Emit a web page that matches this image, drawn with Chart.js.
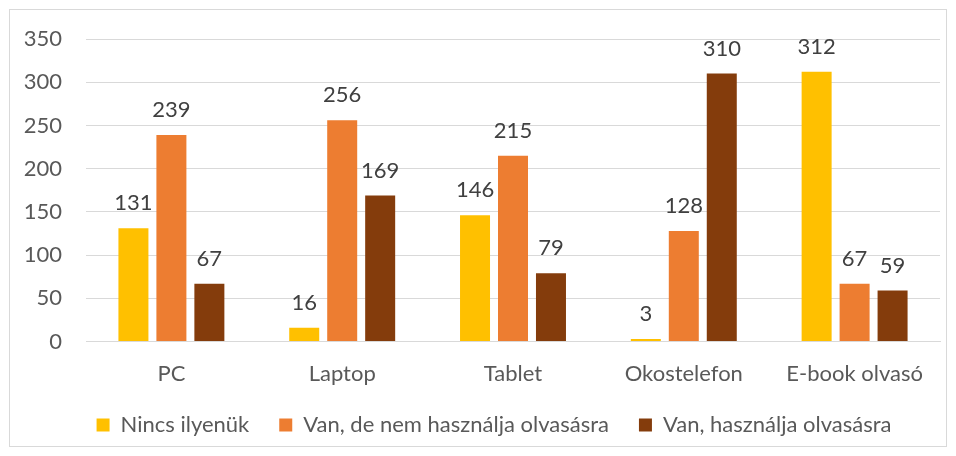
<!DOCTYPE html>
<html>
<head>
<meta charset="utf-8">
<script src="https://cdn.jsdelivr.net/npm/chart.js@4"></script>
<style>
  body { margin: 0; background: #fff; }
  #keret { position: absolute; left: 9px; top: 9px; width: 936px; height: 436px; border: 1px solid #d9d9d9; }
  #doboz { position: absolute; left: 0; top: 0; width: 956px; height: 456px; }
</style>
</head>
<body>
<div id="keret"></div>
<div id="doboz"><canvas id="eszkozChart" width="956" height="456"></canvas></div>
<script>
// Kategóriák és sorozatok
const eszkozok = ["PC", "Laptop", "Tablet", "Okostelefon", "E-book olvasó"];
const nincsIlyenuk = [131, 16, 146, 3, 312];
const vanDeNem = [239, 256, 215, 128, 67];
const vanHasznalja = [67, 169, 79, 310, 59];
const yTicks = [0, 50, 100, 150, 200, 250, 300, 350];

const betu = "Lato, 'Open Sans', sans-serif";

// Értékek kiírása az oszlopok fölé
const ertekFelirat = {
    id: 'ertekFelirat',
    afterDatasetsDraw(chart) {
        const ctx = chart.ctx;
        ctx.save();
        ctx.font = "22px " + betu;
        ctx.fillStyle = "#404040";
        ctx.textAlign = "center";
        ctx.textBaseline = "middle";
        chart.data.datasets.forEach((ds, i) => {
            chart.getDatasetMeta(i).data.forEach((bar, j) => {
                ctx.fillText(ds.data[j], bar.x, bar.y - 25);
            });
        });
        ctx.restore();
    }
};

// Jelmagyarázat finomhangolása (feljebb és jobbra)
const jelmagyarazatTolas = {
    id: 'jelmagyarazatTolas',
    afterLayout(chart) {
        const lg = chart.legend;
        lg.top -= 22; lg.bottom -= 22;
        lg.left += 24; lg.right += 24;
    }
};

const ctx = document.getElementById('eszkozChart').getContext('2d');
const eszkozChart = new Chart(ctx, {
    type: 'bar',
    data: {
        labels: eszkozok,
        datasets: [
            { label: 'Nincs ilyenük', data: nincsIlyenuk, backgroundColor: '#FFC000' },
            { label: 'Van, de nem használja olvasásra', data: vanDeNem, backgroundColor: '#ED7D31' },
            { label: 'Van, használja olvasásra', data: vanHasznalja, backgroundColor: '#843C0C' }
        ]
    },
    options: {
        responsive: false,
        animation: false,
        categoryPercentage: 0.667,
        barPercentage: 0.79,
        layout: { padding: { left: 0, right: 16, top: 39, bottom: -12 } },
        plugins: {
            tooltip: { enabled: false },
            legend: {
                position: 'bottom',
                labels: {
                    font: { size: 22, family: betu },
                    color: '#595959',
                    boxWidth: 13,
                    boxHeight: 13,
                    padding: 30
                }
            }
        },
        scales: {
            x: {
                grid: { display: false, drawTicks: false },
                border: { color: '#d9d9d9' },
                ticks: { font: { size: 22, family: betu }, color: '#595959', padding: 19 }
            },
            y: {
                min: 0,
                max: 350,
                afterFit(scale) { scale.width = 86; },
                afterBuildTicks(scale) { scale.ticks = yTicks.map(v => ({ value: v })); },
                grid: { color: '#d9d9d9', drawTicks: false },
                border: { display: false },
                ticks: { font: { size: 22, family: betu }, color: '#595959', padding: 24 }
            }
        }
    },
    plugins: [ertekFelirat, jelmagyarazatTolas]
});
</script>
</body>
</html>
